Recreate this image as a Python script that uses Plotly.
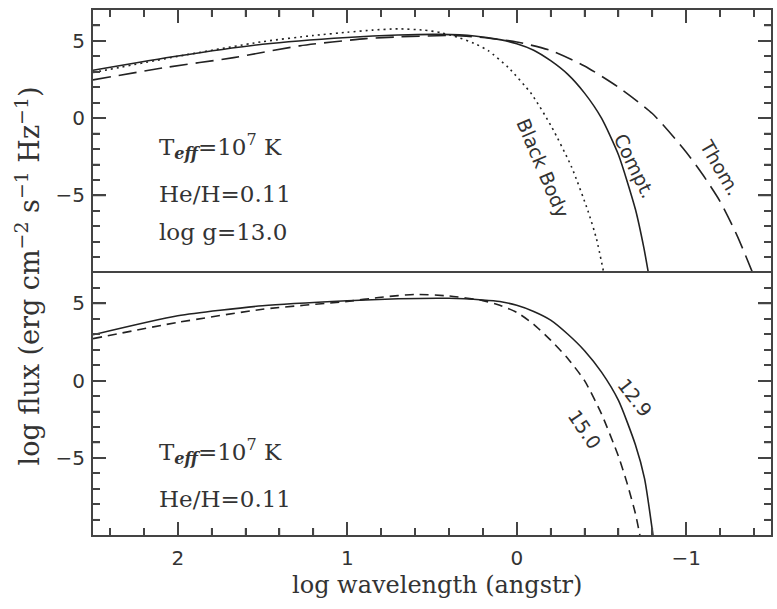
import numpy as np
import plotly.graph_objects as go

# ---------------- data ----------------
# top panel
compt_x = [2.5, 2.0, 1.5, 1.0, 0.7, 0.45, 0.25, 0.1, 0.0, -0.1, -0.2, -0.3, -0.4, -0.5, -0.6, -0.7, -0.75, -0.778]
compt_y = [3.10, 4.02, 4.78, 5.22, 5.38, 5.42, 5.32, 5.08, 4.82, 4.40, 3.72, 2.85, 1.62, 0.00, -2.37, -5.90, -8.40, -10.1]

bb_x = [2.5, 2.0, 1.5, 1.2, 1.0, 0.85, 0.7, 0.55, 0.45, 0.35, 0.25, 0.166, 0.05, -0.088, -0.205, -0.323, -0.42, -0.47, -0.515]
bb_y = [2.95, 4.00, 4.95, 5.35, 5.56, 5.70, 5.78, 5.70, 5.54, 5.24, 4.84, 4.35, 3.28, 1.55, -0.55, -3.15, -6.00, -7.80, -10.1]

thom_x = [2.5, 2.07, 1.67, 1.28, 0.89, 0.69, 0.38, 0.2, 0.0, -0.2, -0.4, -0.6, -0.8, -1.0, -1.1, -1.2, -1.3, -1.395]
thom_y = [2.48, 3.28, 3.92, 4.68, 5.15, 5.26, 5.35, 5.22, 4.93, 4.38, 3.38, 2.00, 0.30, -2.20, -3.70, -5.40, -7.60, -10.1]

# bottom panel
g129_x = [2.5, 2.0, 1.5, 1.0, 0.7, 0.4, 0.2, 0.1, 0.0, -0.1, -0.2, -0.3, -0.4, -0.5, -0.6, -0.7, -0.754, -0.805]
g129_y = [2.97, 4.20, 4.85, 5.17, 5.30, 5.33, 5.22, 5.12, 4.88, 4.48, 3.92, 3.02, 1.94, 0.55, -1.28, -4.15, -6.34, -10.1]

g150_x = [2.5, 2.0, 1.5, 1.0, 0.8, 0.6, 0.4, 0.2, 0.1, 0.0, -0.1, -0.2, -0.3, -0.4, -0.5, -0.6, -0.65, -0.7, -0.73]
g150_y = [2.72, 3.77, 4.62, 5.13, 5.40, 5.58, 5.48, 5.18, 4.88, 4.42, 3.65, 2.62, 1.45, 0.00, -2.15, -4.90, -6.60, -8.60, -10.2]

x_range = [2.5, -1.5]
y_range = [-9.99, 7]
x_major = [2, 1, 0, -1]
y_major = [-5, 0, 5]
x_tick_vals = [2.4, 2.2, 2.0, 1.8, 1.6, 1.4, 1.2, 1.0, 0.8, 0.6, 0.4, 0.2, 0.0,
               -0.2, -0.4, -0.6, -0.8, -1.0, -1.2, -1.4]
y_tick_vals = [-9, -8, -7, -6, -5, -4, -3, -2, -1, 0, 1, 2, 3, 4, 5, 6]
x_minor_step = 0.2
y_minor_step = 1

curve_col = "#222222"
frame_col = "#444444"
MAJOR_LEN = 13   # px
MINOR_LEN = 7    # px

W, H = 777, 609
M = dict(l=93, r=4, t=10, b=74)
plot_w = W - M["l"] - M["r"]
panel_h = (H - M["t"] - M["b"]) / 2.0
px_per_x = plot_w / abs(x_range[1] - x_range[0])
px_per_y = panel_h / (y_range[1] - y_range[0])

fig = go.Figure()

def add_line(x, y, dash, xa, ya):
    fig.add_trace(go.Scatter(x=x, y=y, mode="lines", xaxis=xa, yaxis=ya,
                             line=dict(color=curve_col, width=1.6, dash=dash, shape="spline", smoothing=0.6),
                             showlegend=False, hoverinfo="skip"))

add_line(bb_x, bb_y, "2px,4px", "x", "y")
add_line(thom_x, thom_y, "18px,8px", "x", "y")
add_line(compt_x, compt_y, "solid", "x", "y")
add_line(g150_x, g150_y, "9px,6px", "x2", "y2")
add_line(g129_x, g129_y, "solid", "x2", "y2")

# ---- inside tick marks built from the tick lists and the axis scales ----
def tick_segments(panel):
    xs, ys = [], []
    xdir = -1 if x_range[1] < x_range[0] else 1
    for v in x_tick_vals:
        ln = (MAJOR_LEN if v in x_major else MINOR_LEN) / px_per_y
        if panel == "top":
            xs += [v, v, None]; ys += [y_range[1], y_range[1] - ln, None]
        else:
            xs += [v, v, None]; ys += [y_range[0], y_range[0] + ln, None]
    for v in y_tick_vals:
        ln = (MAJOR_LEN if v in y_major else MINOR_LEN) / px_per_x
        xs += [x_range[0], x_range[0] + xdir * ln, None]; ys += [v, v, None]
        xs += [x_range[1], x_range[1] - xdir * ln, None]; ys += [v, v, None]
    return xs, ys

for panel, xa, ya in (("top", "x", "y"), ("bottom", "x2", "y2")):
    tx, ty = tick_segments(panel)
    fig.add_trace(go.Scatter(x=tx, y=ty, mode="lines", xaxis=xa, yaxis=ya,
                             line=dict(color=frame_col, width=1.5), connectgaps=False,
                             showlegend=False, hoverinfo="skip"))

tickfont = dict(family="DejaVu Sans", size=20, color="#333333")
common_x = dict(range=x_range, autorange=False, tickmode="array", tickvals=x_major,
                ticks="inside", ticklen=MAJOR_LEN, tickwidth=1.5, tickcolor=frame_col,
                minor=dict(ticks="inside", ticklen=MINOR_LEN, tickwidth=1.5, tickcolor=frame_col,
                           tickmode="linear", tick0=0, dtick=x_minor_step, showgrid=False),
                showline=True, linecolor=frame_col, linewidth=2,
                showgrid=False, zeroline=False, tickfont=tickfont)
common_y = dict(range=y_range, autorange=False, tickmode="array", tickvals=y_major,
                ticks="inside", ticklen=MAJOR_LEN, tickwidth=1.5, tickcolor=frame_col,
                minor=dict(ticks="inside", ticklen=MINOR_LEN, tickwidth=1.5, tickcolor=frame_col,
                           tickmode="linear", tick0=0, dtick=y_minor_step, showgrid=False),
                showline=True, linecolor=frame_col, linewidth=2,
                showgrid=False, zeroline=False, mirror="ticks", tickfont=tickfont)

fig.update_layout(
    width=W, height=H,
    margin=M,
    paper_bgcolor="white", plot_bgcolor="white",
    font=dict(family="DejaVu Sans", color="#333333"),
    xaxis=dict(common_x, anchor="y", side="top", showticklabels=False),
    xaxis2=dict(common_x, anchor="y2", side="bottom", mirror=True, ticklabelstandoff=4),
    yaxis=dict(common_y, domain=[0.5, 1.0], anchor="x", ticklabelstandoff=2),
    yaxis2=dict(common_y, domain=[0.0, 0.5], anchor="x2", ticklabelstandoff=2),
)

serif = dict(family="DejaVu Serif", size=23, color="#333333")
sans = dict(family="DejaVu Sans", size=19, color="#333333")
teff = "T<sub><b><i>eff</i></b></sub>=10<sup>7</sup> K"

anns = [
    dict(x=2.125, y=-1.82, xref="x", yref="y", text=teff, xanchor="left", font=serif),
    dict(x=2.125, y=-4.93, xref="x", yref="y", text="He/H=0.11", xanchor="left", font=serif),
    dict(x=2.125, y=-7.40, xref="x", yref="y", text="log g=13.0", xanchor="left", font=serif),
    dict(x=-0.157, y=-3.2, xref="x", yref="y", text="Black Body", textangle=67, font=sans),
    dict(x=-0.695, y=-3.1, xref="x", yref="y", text="Compt.", textangle=64, font=sans),
    dict(x=-1.204, y=-3.2, xref="x", yref="y", text="Thom.", textangle=60, font=sans),
    dict(x=2.125, y=-4.61, xref="x2", yref="y2", text=teff, xanchor="left", font=serif),
    dict(x=2.125, y=-7.63, xref="x2", yref="y2", text="He/H=0.11", xanchor="left", font=serif),
    dict(x=-0.695, y=-1.06, xref="x2", yref="y2", text="12.9", textangle=52, font=sans),
    dict(x=-0.40, y=-3.11, xref="x2", yref="y2", text="15.0", textangle=56, font=sans),
    dict(x=0.507, y=-0.095, xref="paper", yref="paper", text="log wavelength (angstr)",
         xanchor="center", yanchor="middle", font=dict(serif, size=24)),
    dict(x=-0.097, y=0.493, xref="paper", yref="paper",
         text="log flux (erg cm<sup>−2</sup> s<sup>−1</sup> Hz<sup>−1</sup>)",
         textangle=-90, xanchor="center", yanchor="middle", font=dict(serif, size=27)),
]
for a in anns:
    a.setdefault("showarrow", False)
    fig.add_annotation(**a)

fig.write_html("out.html")
